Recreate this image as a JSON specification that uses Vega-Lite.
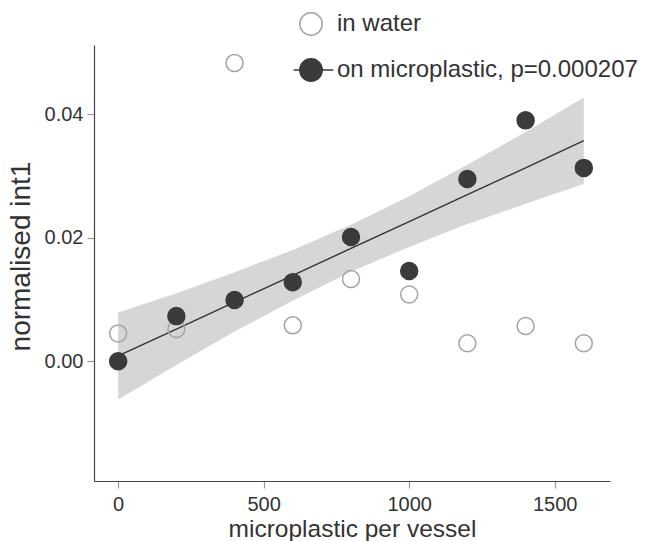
{
  "$schema": "https://vega.github.io/schema/vega-lite/v6.json",
  "width": 516,
  "height": 436,
  "autosize": {"type": "none"},
  "padding": {"left": 94, "top": 45, "right": 38, "bottom": 60},
  "background": "white",
  "config": {
    "view": {"stroke": null},
    "font": "Liberation Sans",
    "axis": {
      "domainColor": "#444",
      "domainWidth": 1.2,
      "tickColor": "#999",
      "tickSize": 7,
      "tickWidth": 1.2,
      "labelColor": "#333",
      "labelFontSize": 20,
      "labelFont": "Liberation Sans",
      "titleFont": "Liberation Sans",
      "titleColor": "#333",
      "titleFontWeight": "normal",
      "titleFontSize": 24.5,
      "grid": false
    },
    "legend": {
      "labelFont": "Liberation Sans",
      "labelFontSize": 24,
      "labelColor": "#333",
      "labelLimit": 500,
      "symbolSize": 500,
      "symbolStrokeWidth": 1.5,
      "labelOffset": 14,
      "rowPadding": 16,
      "padding": 0
    }
  },
  "datasets": {
    "pts": [
      {"x": 0, "y": 0.0045, "group": "in water"},
      {"x": 200, "y": 0.0052, "group": "in water"},
      {"x": 400, "y": 0.0483, "group": "in water"},
      {"x": 600, "y": 0.0058, "group": "in water"},
      {"x": 800, "y": 0.0133, "group": "in water"},
      {"x": 1000, "y": 0.0108, "group": "in water"},
      {"x": 1200, "y": 0.0029, "group": "in water"},
      {"x": 1400, "y": 0.0057, "group": "in water"},
      {"x": 1600, "y": 0.0029, "group": "in water"},
      {"x": 0, "y": 0.0, "group": "on microplastic, p=0.000207"},
      {"x": 200, "y": 0.0073, "group": "on microplastic, p=0.000207"},
      {"x": 400, "y": 0.0099, "group": "on microplastic, p=0.000207"},
      {"x": 600, "y": 0.0128, "group": "on microplastic, p=0.000207"},
      {"x": 800, "y": 0.0201, "group": "on microplastic, p=0.000207"},
      {"x": 1000, "y": 0.0146, "group": "on microplastic, p=0.000207"},
      {"x": 1200, "y": 0.0295, "group": "on microplastic, p=0.000207"},
      {"x": 1400, "y": 0.0390, "group": "on microplastic, p=0.000207"},
      {"x": 1600, "y": 0.0313, "group": "on microplastic, p=0.000207"}
    ],
    "fit": [
      {"x": 0, "fit": 0.00085, "lo": -0.0062, "hi": 0.0079},
      {"x": 200, "fit": 0.0052, "lo": -0.0006, "hi": 0.0110},
      {"x": 400, "fit": 0.00955, "lo": 0.0048, "hi": 0.0144},
      {"x": 600, "fit": 0.0139, "lo": 0.0098, "hi": 0.0180},
      {"x": 800, "fit": 0.01826, "lo": 0.0145, "hi": 0.0221},
      {"x": 1000, "fit": 0.0226, "lo": 0.0185, "hi": 0.0267},
      {"x": 1200, "fit": 0.02696, "lo": 0.0222, "hi": 0.0318},
      {"x": 1400, "fit": 0.0313, "lo": 0.0255, "hi": 0.0371},
      {"x": 1600, "fit": 0.0357, "lo": 0.0287, "hi": 0.0427}
    ]
  },
  "layer": [
    {
      "data": {"name": "fit"},
      "mark": {"type": "area", "color": "#d6d6d6", "opacity": 1},
      "encoding": {
        "x": {"field": "x", "type": "quantitative", "scale": {"domain": [-83, 1690], "nice": false, "zero": false},
          "axis": {"values": [0, 500, 1000, 1500], "format": "d", "title": "microplastic per vessel", "titlePadding": 3, "labelPadding": 6}},
        "y": {"field": "lo", "type": "quantitative", "scale": {"domain": [-0.0194, 0.0512], "nice": false, "zero": false},
          "axis": {"values": [0, 0.02, 0.04], "format": ".2f", "title": "normalised int1", "titleFontSize": 28, "titleY": 211, "titlePadding": 9, "labelPadding": 4}},
        "y2": {"field": "hi"}
      }
    },
    {
      "data": {"name": "fit"},
      "mark": {"type": "line", "color": "#333", "strokeWidth": 1.4},
      "encoding": {
        "x": {"field": "x", "type": "quantitative"},
        "y": {"field": "fit", "type": "quantitative"}
      }
    },
    {
      "data": {"name": "pts"},
      "mark": {"type": "point", "shape": "circle", "size": 289, "strokeWidth": 1.5, "opacity": 1},
      "encoding": {
        "x": {"field": "x", "type": "quantitative"},
        "y": {"field": "y", "type": "quantitative"},
        "fill": {"field": "group", "type": "nominal",
          "scale": {"domain": ["in water", "on microplastic, p=0.000207"], "range": ["transparent", "#3b3b3b"]},
          "legend": {"title": null, "orient": "none", "legendX": 205, "legendY": -33}},
        "stroke": {"field": "group", "type": "nominal",
          "scale": {"domain": ["in water", "on microplastic, p=0.000207"], "range": ["#a3a3a3", "#3b3b3b"]},
          "legend": {"title": null, "orient": "none", "legendX": 205, "legendY": -33}}
      }
    },
    {
      "data": {"name": "pts"},
      "transform": [{"filter": "datum.x < -1000"}],
      "mark": {"type": "point", "strokeWidth": 1.5, "opacity": 1},
      "encoding": {
        "x": {"field": "x", "type": "quantitative"},
        "y": {"field": "y", "type": "quantitative"},
        "fill": {"field": "group", "type": "nominal"},
        "stroke": {"field": "group", "type": "nominal"},
        "shape": {"field": "group", "type": "nominal",
          "scale": {"domain": ["in water", "on microplastic, p=0.000207"],
            "range": ["circle", "M1,0A1,1,0,1,1,-1,0A1,1,0,1,1,1,0Z M-1.55,0L-1,0 M1,0L2.0,0"]},
          "legend": {"title": null, "orient": "none", "legendX": 205, "legendY": -33}}
      }
    }
  ],
  "resolve": {"scale": {"fill": "shared", "stroke": "shared", "shape": "shared"}}
}
